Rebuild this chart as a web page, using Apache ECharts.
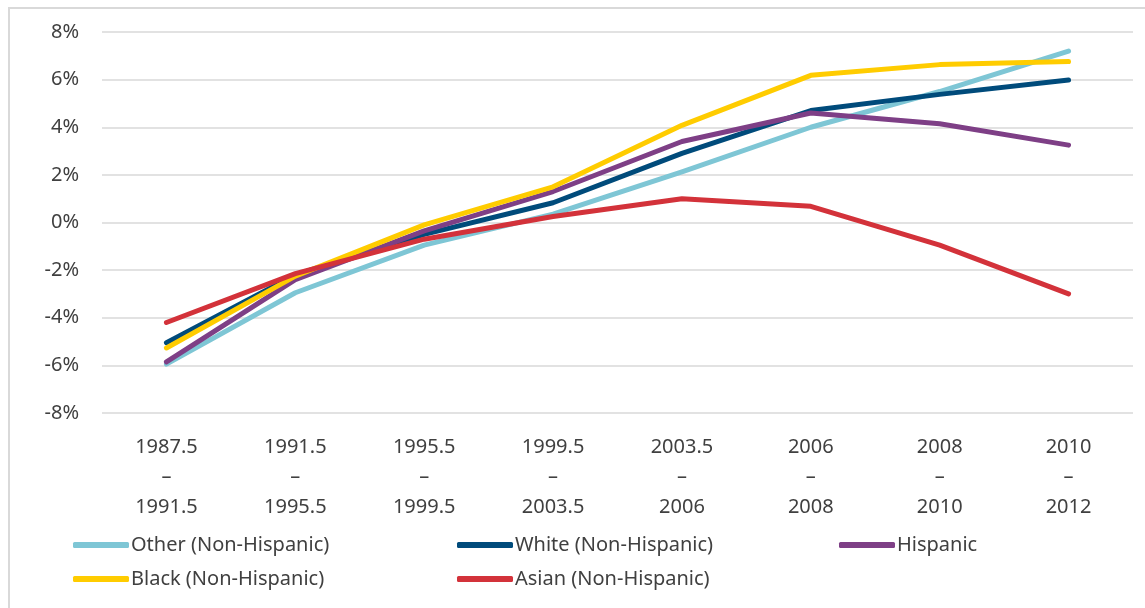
<!DOCTYPE html>
<html>
<head>
<meta charset="utf-8">
<script src="https://cdn.jsdelivr.net/npm/echarts@6/dist/echarts.min.js"></script>
<style>
html,body{margin:0;padding:0;background:#fff;}
#c{width:1145px;height:608px;}
</style>
</head>
<body>
<div id="c"></div>
<script>
var periodStart = ['1987.5','1991.5','1995.5','1999.5','2003.5','2006','2008','2010'];
var periodEnd   = ['1991.5','1995.5','1999.5','2003.5','2006','2008','2010','2012'];
var seriesNames = ['Other (Non-Hispanic)','White (Non-Hispanic)','Hispanic','Black (Non-Hispanic)','Asian (Non-Hispanic)'];
var otherVals    = [-5.95, -2.95, -0.95, 0.35, 2.13, 4.0, 5.5, 7.2];
var whiteVals    = [-5.05, -2.2, -0.5, 0.83, 2.9, 4.7, 5.38, 5.98];
var hispanicVals = [-5.85, -2.4, -0.35, 1.3, 3.4, 4.6, 4.15, 3.25];
var blackVals    = [-5.27, -2.25, -0.1, 1.5, 4.08, 6.18, 6.63, 6.76];
var asianVals    = [-4.2, -2.15, -0.7, 0.25, 1.0, 0.68, -0.95, -3.0];
var yTicks = [-8,-6,-4,-2,0,2,4,6,8];

var colors = ['#7EC6D5','#004B7B','#7E3F86','#FFCC00','#D3323A'];
var allVals = [otherVals, whiteVals, hispanicVals, blackVals, asianVals];
var categories = periodStart.map(function(s,i){ return s + '\n–\n' + periodEnd[i]; });

var FONT = 'Noto Sans';
var TXT = '#404040';

var legendLefts = [73, 457, 839, 73, 457];
var legendTops  = [535, 535, 535, 569, 569];

var chart = echarts.init(document.getElementById('c'), null, {renderer:'canvas'});
chart.setOption({
  animation: false,
  backgroundColor: '#fff',
  textStyle: {fontFamily: FONT},
  grid: {left: 102, right: 12, top: 32, bottom: 195, containLabel: false},
  xAxis: {
    type: 'category',
    data: categories,
    boundaryGap: true,
    axisLine: {show: false},
    axisTick: {show: false},
    axisLabel: {color: TXT, fontSize: 20, fontFamily: FONT, lineHeight: 30, margin: 19, interval: 0}
  },
  yAxis: {
    type: 'value',
    min: yTicks[0], max: yTicks[yTicks.length-1], interval: 2,
    axisLine: {show: false},
    axisTick: {show: false},
    axisLabel: {color: TXT, fontSize: 20, fontFamily: FONT, margin: 23, formatter: '{value}%'},
    splitLine: {lineStyle: {color: '#d9d9d9', width: 1.5}}
  },
  legend: seriesNames.map(function(n,i){
    return {
      data: [n], left: legendLefts[i], top: legendTops[i], padding: 0,
      icon: 'roundRect', itemWidth: 56, itemHeight: 6, itemGap: 0,
      textStyle: {color: TXT, fontSize: 20, fontFamily: FONT, padding: [0,0,0,-3]},
      selectedMode: false
    };
  }),
  series: seriesNames.map(function(n,i){
    return {
      name: n, type: 'line', data: allVals[i],
      showSymbol: false, symbol: 'none',
      color: colors[i],
      lineStyle: {width: 5, color: colors[i], cap: 'round', join: 'round'},
      z: 2 + i
    };
  }),
  graphic: [{
    type: 'rect', silent: true, z: -1,
    shape: {x: 9, y: 8, width: 1160, height: 620},
    style: {fill: 'none', stroke: '#d9d9d9', lineWidth: 2}
  }]
});
</script>
</body>
</html>
